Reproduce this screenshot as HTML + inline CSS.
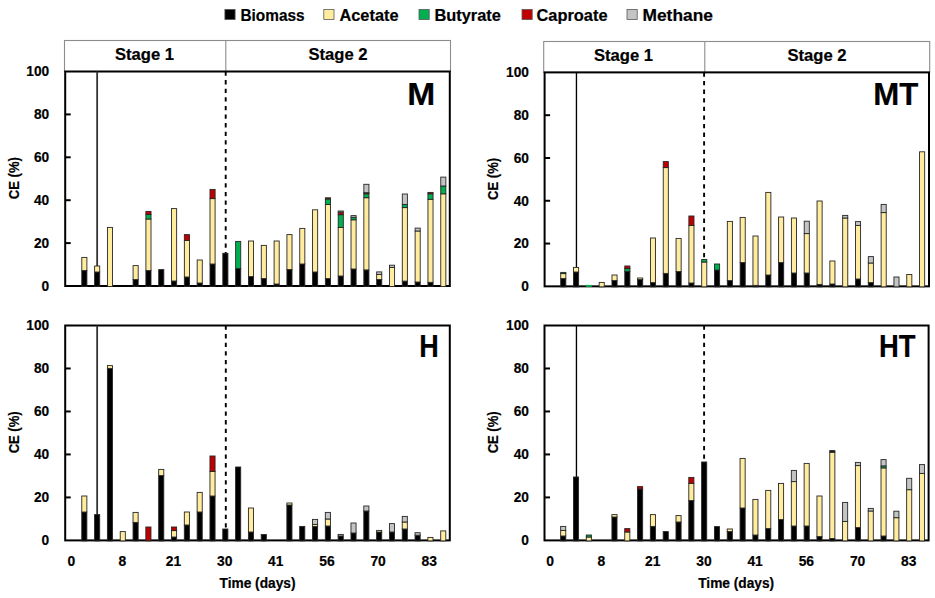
<!DOCTYPE html>
<html><head><meta charset="utf-8"><style>
html,body{margin:0;padding:0;background:#fff;}
body{width:935px;height:598px;overflow:hidden;}
svg{display:block;}
</style></head><body>
<svg width="935" height="598" viewBox="0 0 935 598">
<rect width="935" height="598" fill="#fff"/>
<rect x="64.5" y="40.5" width="386" height="31" fill="#fff" stroke="#8c8c8c" stroke-width="1.1"/>
<line x1="225.8" y1="40.5" x2="225.8" y2="71.5" stroke="#8c8c8c" stroke-width="1.1"/>
<rect x="65.2" y="71.5" width="384.6" height="214.5" fill="none" stroke="#000" stroke-width="2.0"/>
<line x1="97.15" y1="71.5" x2="97.15" y2="286" stroke="#333" stroke-width="1.8"/>
<line x1="225.7" y1="71.5" x2="225.7" y2="286" stroke="#000" stroke-width="1.9" stroke-dasharray="4.3 4.3"/>
<rect x="81.8" y="270.6" width="5.1" height="15.9" fill="#000000" stroke="#262626" stroke-width="0.9"/>
<rect x="81.8" y="257.4" width="5.1" height="13.2" fill="#FFEC9F" stroke="#262626" stroke-width="0.9"/>
<rect x="94.62" y="272" width="5.1" height="14.5" fill="#000000" stroke="#262626" stroke-width="0.9"/>
<rect x="94.62" y="266" width="5.1" height="6" fill="#FFEC9F" stroke="#262626" stroke-width="0.9"/>
<rect x="107.44" y="227.4" width="5.1" height="59.1" fill="#FFEC9F" stroke="#262626" stroke-width="0.9"/>
<rect x="133.08" y="279.6" width="5.1" height="6.9" fill="#000000" stroke="#262626" stroke-width="0.9"/>
<rect x="133.08" y="265.6" width="5.1" height="14" fill="#FFEC9F" stroke="#262626" stroke-width="0.9"/>
<rect x="145.9" y="270.6" width="5.1" height="15.9" fill="#000000" stroke="#262626" stroke-width="0.9"/>
<rect x="145.9" y="219" width="5.1" height="51.6" fill="#FFEC9F" stroke="#262626" stroke-width="0.9"/>
<rect x="145.9" y="214.4" width="5.1" height="4.6" fill="#00B050" stroke="#262626" stroke-width="0.9"/>
<rect x="145.9" y="211.4" width="5.1" height="3" fill="#C00000" stroke="#262626" stroke-width="0.9"/>
<rect x="158.72" y="269.6" width="5.1" height="16.9" fill="#000000" stroke="#262626" stroke-width="0.9"/>
<rect x="171.54" y="281" width="5.1" height="5.5" fill="#000000" stroke="#262626" stroke-width="0.9"/>
<rect x="171.54" y="208.6" width="5.1" height="72.4" fill="#FFEC9F" stroke="#262626" stroke-width="0.9"/>
<rect x="184.36" y="277" width="5.1" height="9.5" fill="#000000" stroke="#262626" stroke-width="0.9"/>
<rect x="184.36" y="240.4" width="5.1" height="36.6" fill="#FFEC9F" stroke="#262626" stroke-width="0.9"/>
<rect x="184.36" y="234.6" width="5.1" height="5.8" fill="#C00000" stroke="#262626" stroke-width="0.9"/>
<rect x="197.18" y="283" width="5.1" height="3.5" fill="#000000" stroke="#262626" stroke-width="0.9"/>
<rect x="197.18" y="260" width="5.1" height="23" fill="#FFEC9F" stroke="#262626" stroke-width="0.9"/>
<rect x="210" y="264" width="5.1" height="22.5" fill="#000000" stroke="#262626" stroke-width="0.9"/>
<rect x="210" y="198.6" width="5.1" height="65.4" fill="#FFEC9F" stroke="#262626" stroke-width="0.9"/>
<rect x="210" y="189.4" width="5.1" height="9.2" fill="#C00000" stroke="#262626" stroke-width="0.9"/>
<rect x="222.82" y="253.3" width="5.1" height="33.2" fill="#000000" stroke="#262626" stroke-width="0.9"/>
<rect x="235.64" y="268.6" width="5.1" height="17.9" fill="#000000" stroke="#262626" stroke-width="0.9"/>
<rect x="235.64" y="241.4" width="5.1" height="27.2" fill="#00B050" stroke="#262626" stroke-width="0.9"/>
<rect x="248.46" y="276.6" width="5.1" height="9.9" fill="#000000" stroke="#262626" stroke-width="0.9"/>
<rect x="248.46" y="241" width="5.1" height="35.6" fill="#FFEC9F" stroke="#262626" stroke-width="0.9"/>
<rect x="261.28" y="278.6" width="5.1" height="7.9" fill="#000000" stroke="#262626" stroke-width="0.9"/>
<rect x="261.28" y="245.4" width="5.1" height="33.2" fill="#FFEC9F" stroke="#262626" stroke-width="0.9"/>
<rect x="274.1" y="284" width="5.1" height="2.5" fill="#000000" stroke="#262626" stroke-width="0.9"/>
<rect x="274.1" y="241" width="5.1" height="43" fill="#FFEC9F" stroke="#262626" stroke-width="0.9"/>
<rect x="286.92" y="269.6" width="5.1" height="16.9" fill="#000000" stroke="#262626" stroke-width="0.9"/>
<rect x="286.92" y="234.6" width="5.1" height="35" fill="#FFEC9F" stroke="#262626" stroke-width="0.9"/>
<rect x="299.74" y="264" width="5.1" height="22.5" fill="#000000" stroke="#262626" stroke-width="0.9"/>
<rect x="299.74" y="228.4" width="5.1" height="35.6" fill="#FFEC9F" stroke="#262626" stroke-width="0.9"/>
<rect x="312.56" y="272" width="5.1" height="14.5" fill="#000000" stroke="#262626" stroke-width="0.9"/>
<rect x="312.56" y="209.8" width="5.1" height="62.2" fill="#FFEC9F" stroke="#262626" stroke-width="0.9"/>
<rect x="325.38" y="278.6" width="5.1" height="7.9" fill="#000000" stroke="#262626" stroke-width="0.9"/>
<rect x="325.38" y="204.4" width="5.1" height="74.2" fill="#FFEC9F" stroke="#262626" stroke-width="0.9"/>
<rect x="325.38" y="199" width="5.1" height="5.4" fill="#00B050" stroke="#262626" stroke-width="0.9"/>
<rect x="325.38" y="197.8" width="5.1" height="1.2" fill="#C00000" stroke="#262626" stroke-width="0.9"/>
<rect x="338.2" y="276" width="5.1" height="10.5" fill="#000000" stroke="#262626" stroke-width="0.9"/>
<rect x="338.2" y="227.5" width="5.1" height="48.5" fill="#FFEC9F" stroke="#262626" stroke-width="0.9"/>
<rect x="338.2" y="214.7" width="5.1" height="12.8" fill="#00B050" stroke="#262626" stroke-width="0.9"/>
<rect x="338.2" y="212.2" width="5.1" height="2.5" fill="#C00000" stroke="#262626" stroke-width="0.9"/>
<rect x="338.2" y="211" width="5.1" height="1.2" fill="#C4C4C4" stroke="#262626" stroke-width="0.9"/>
<rect x="351.02" y="269" width="5.1" height="17.5" fill="#000000" stroke="#262626" stroke-width="0.9"/>
<rect x="351.02" y="219.8" width="5.1" height="49.2" fill="#FFEC9F" stroke="#262626" stroke-width="0.9"/>
<rect x="351.02" y="217.3" width="5.1" height="2.5" fill="#00B050" stroke="#262626" stroke-width="0.9"/>
<rect x="351.02" y="215.6" width="5.1" height="1.7" fill="#C4C4C4" stroke="#262626" stroke-width="0.9"/>
<rect x="363.84" y="269.9" width="5.1" height="16.6" fill="#000000" stroke="#262626" stroke-width="0.9"/>
<rect x="363.84" y="197.7" width="5.1" height="72.2" fill="#FFEC9F" stroke="#262626" stroke-width="0.9"/>
<rect x="363.84" y="193.8" width="5.1" height="3.9" fill="#00B050" stroke="#262626" stroke-width="0.9"/>
<rect x="363.84" y="192.7" width="5.1" height="1.1" fill="#C00000" stroke="#262626" stroke-width="0.9"/>
<rect x="363.84" y="184.3" width="5.1" height="8.4" fill="#C4C4C4" stroke="#262626" stroke-width="0.9"/>
<rect x="376.66" y="279.5" width="5.1" height="7" fill="#000000" stroke="#262626" stroke-width="0.9"/>
<rect x="376.66" y="274.4" width="5.1" height="5.1" fill="#FFEC9F" stroke="#262626" stroke-width="0.9"/>
<rect x="376.66" y="271.9" width="5.1" height="2.5" fill="#C4C4C4" stroke="#262626" stroke-width="0.9"/>
<rect x="389.48" y="267.4" width="5.1" height="19.1" fill="#FFEC9F" stroke="#262626" stroke-width="0.9"/>
<rect x="389.48" y="265.2" width="5.1" height="2.2" fill="#C4C4C4" stroke="#262626" stroke-width="0.9"/>
<rect x="402.3" y="281.1" width="5.1" height="5.4" fill="#000000" stroke="#262626" stroke-width="0.9"/>
<rect x="402.3" y="207.6" width="5.1" height="73.5" fill="#FFEC9F" stroke="#262626" stroke-width="0.9"/>
<rect x="402.3" y="204.4" width="5.1" height="3.2" fill="#00B050" stroke="#262626" stroke-width="0.9"/>
<rect x="402.3" y="194" width="5.1" height="10.4" fill="#C4C4C4" stroke="#262626" stroke-width="0.9"/>
<rect x="415.12" y="282" width="5.1" height="4.5" fill="#000000" stroke="#262626" stroke-width="0.9"/>
<rect x="415.12" y="231" width="5.1" height="51" fill="#FFEC9F" stroke="#262626" stroke-width="0.9"/>
<rect x="415.12" y="228.1" width="5.1" height="2.9" fill="#C4C4C4" stroke="#262626" stroke-width="0.9"/>
<rect x="427.94" y="282.3" width="5.1" height="4.2" fill="#000000" stroke="#262626" stroke-width="0.9"/>
<rect x="427.94" y="199.3" width="5.1" height="83" fill="#FFEC9F" stroke="#262626" stroke-width="0.9"/>
<rect x="427.94" y="193.8" width="5.1" height="5.5" fill="#00B050" stroke="#262626" stroke-width="0.9"/>
<rect x="427.94" y="192.4" width="5.1" height="1.4" fill="#C00000" stroke="#262626" stroke-width="0.9"/>
<rect x="440.76" y="193.8" width="5.1" height="92.7" fill="#FFEC9F" stroke="#262626" stroke-width="0.9"/>
<rect x="440.76" y="186" width="5.1" height="7.8" fill="#00B050" stroke="#262626" stroke-width="0.9"/>
<rect x="440.76" y="177.1" width="5.1" height="8.9" fill="#C4C4C4" stroke="#262626" stroke-width="0.9"/>
<line x1="65.2" y1="243.1" x2="70.7" y2="243.1" stroke="#000" stroke-width="2"/>
<line x1="65.2" y1="200.2" x2="70.7" y2="200.2" stroke="#000" stroke-width="2"/>
<line x1="65.2" y1="157.3" x2="70.7" y2="157.3" stroke="#000" stroke-width="2"/>
<line x1="65.2" y1="114.4" x2="70.7" y2="114.4" stroke="#000" stroke-width="2"/>
<rect x="543.7" y="41.5" width="386" height="30.9" fill="#fff" stroke="#8c8c8c" stroke-width="1.1"/>
<line x1="704.8" y1="41.5" x2="704.8" y2="72.4" stroke="#8c8c8c" stroke-width="1.1"/>
<rect x="544.6" y="72.4" width="384.4" height="213.95" fill="none" stroke="#000" stroke-width="2.0"/>
<line x1="576.45" y1="72.4" x2="576.45" y2="286.35" stroke="#000" stroke-width="1.35"/>
<line x1="704.1" y1="72.4" x2="704.1" y2="286.35" stroke="#000" stroke-width="1.9" stroke-dasharray="4.3 4.3"/>
<rect x="560.72" y="278.6" width="5.1" height="8.25" fill="#000000" stroke="#262626" stroke-width="0.9"/>
<rect x="560.72" y="273.6" width="5.1" height="5" fill="#FFEC9F" stroke="#262626" stroke-width="0.9"/>
<rect x="560.72" y="272.4" width="5.1" height="1.2" fill="#00B050" stroke="#262626" stroke-width="0.9"/>
<rect x="573.53" y="272" width="5.1" height="14.85" fill="#000000" stroke="#262626" stroke-width="0.9"/>
<rect x="573.53" y="267.4" width="5.1" height="4.6" fill="#FFEC9F" stroke="#262626" stroke-width="0.9"/>
<rect x="585.95" y="284.9" width="5.9" height="1.95" fill="#00B050"/>
<rect x="599.16" y="282.4" width="5.1" height="4.45" fill="#FFEC9F" stroke="#262626" stroke-width="0.9"/>
<rect x="611.98" y="280.6" width="5.1" height="6.25" fill="#000000" stroke="#262626" stroke-width="0.9"/>
<rect x="611.98" y="275" width="5.1" height="5.6" fill="#FFEC9F" stroke="#262626" stroke-width="0.9"/>
<rect x="624.8" y="271.4" width="5.1" height="15.45" fill="#000000" stroke="#262626" stroke-width="0.9"/>
<rect x="624.8" y="268.6" width="5.1" height="2.8" fill="#00B050" stroke="#262626" stroke-width="0.9"/>
<rect x="624.8" y="266" width="5.1" height="2.6" fill="#C00000" stroke="#262626" stroke-width="0.9"/>
<rect x="637.61" y="279.6" width="5.1" height="7.25" fill="#000000" stroke="#262626" stroke-width="0.9"/>
<rect x="637.61" y="278" width="5.1" height="1.6" fill="#FFEC9F" stroke="#262626" stroke-width="0.9"/>
<rect x="650.43" y="282.6" width="5.1" height="4.25" fill="#000000" stroke="#262626" stroke-width="0.9"/>
<rect x="650.43" y="238" width="5.1" height="44.6" fill="#FFEC9F" stroke="#262626" stroke-width="0.9"/>
<rect x="663.24" y="273.4" width="5.1" height="13.45" fill="#000000" stroke="#262626" stroke-width="0.9"/>
<rect x="663.24" y="167.6" width="5.1" height="105.8" fill="#FFEC9F" stroke="#262626" stroke-width="0.9"/>
<rect x="663.24" y="161.6" width="5.1" height="6" fill="#C00000" stroke="#262626" stroke-width="0.9"/>
<rect x="676.06" y="271.6" width="5.1" height="15.25" fill="#000000" stroke="#262626" stroke-width="0.9"/>
<rect x="676.06" y="238.4" width="5.1" height="33.2" fill="#FFEC9F" stroke="#262626" stroke-width="0.9"/>
<rect x="688.88" y="283" width="5.1" height="3.85" fill="#000000" stroke="#262626" stroke-width="0.9"/>
<rect x="688.88" y="225.4" width="5.1" height="57.6" fill="#FFEC9F" stroke="#262626" stroke-width="0.9"/>
<rect x="688.88" y="216" width="5.1" height="9.4" fill="#C00000" stroke="#262626" stroke-width="0.9"/>
<rect x="701.69" y="262" width="5.1" height="24.85" fill="#FFEC9F" stroke="#262626" stroke-width="0.9"/>
<rect x="701.69" y="259.4" width="5.1" height="2.6" fill="#00B050" stroke="#262626" stroke-width="0.9"/>
<rect x="714.51" y="270" width="5.1" height="16.85" fill="#000000" stroke="#262626" stroke-width="0.9"/>
<rect x="714.51" y="264" width="5.1" height="6" fill="#00B050" stroke="#262626" stroke-width="0.9"/>
<rect x="727.32" y="280.6" width="5.1" height="6.25" fill="#000000" stroke="#262626" stroke-width="0.9"/>
<rect x="727.32" y="221.4" width="5.1" height="59.2" fill="#FFEC9F" stroke="#262626" stroke-width="0.9"/>
<rect x="740.14" y="262.6" width="5.1" height="24.25" fill="#000000" stroke="#262626" stroke-width="0.9"/>
<rect x="740.14" y="217.4" width="5.1" height="45.2" fill="#FFEC9F" stroke="#262626" stroke-width="0.9"/>
<rect x="752.96" y="285.4" width="5.1" height="1.45" fill="#000000" stroke="#262626" stroke-width="0.9"/>
<rect x="752.96" y="236" width="5.1" height="49.4" fill="#FFEC9F" stroke="#262626" stroke-width="0.9"/>
<rect x="765.77" y="275" width="5.1" height="11.85" fill="#000000" stroke="#262626" stroke-width="0.9"/>
<rect x="765.77" y="192.4" width="5.1" height="82.6" fill="#FFEC9F" stroke="#262626" stroke-width="0.9"/>
<rect x="778.59" y="262.6" width="5.1" height="24.25" fill="#000000" stroke="#262626" stroke-width="0.9"/>
<rect x="778.59" y="217" width="5.1" height="45.6" fill="#FFEC9F" stroke="#262626" stroke-width="0.9"/>
<rect x="791.4" y="273" width="5.1" height="13.85" fill="#000000" stroke="#262626" stroke-width="0.9"/>
<rect x="791.4" y="218" width="5.1" height="55" fill="#FFEC9F" stroke="#262626" stroke-width="0.9"/>
<rect x="804.22" y="273" width="5.1" height="13.85" fill="#000000" stroke="#262626" stroke-width="0.9"/>
<rect x="804.22" y="233.6" width="5.1" height="39.4" fill="#FFEC9F" stroke="#262626" stroke-width="0.9"/>
<rect x="804.22" y="221.2" width="5.1" height="12.4" fill="#C4C4C4" stroke="#262626" stroke-width="0.9"/>
<rect x="817.04" y="284.4" width="5.1" height="2.45" fill="#000000" stroke="#262626" stroke-width="0.9"/>
<rect x="817.04" y="201" width="5.1" height="83.4" fill="#FFEC9F" stroke="#262626" stroke-width="0.9"/>
<rect x="829.85" y="284" width="5.1" height="2.85" fill="#000000" stroke="#262626" stroke-width="0.9"/>
<rect x="829.85" y="261" width="5.1" height="23" fill="#FFEC9F" stroke="#262626" stroke-width="0.9"/>
<rect x="842.67" y="218" width="5.1" height="68.85" fill="#FFEC9F" stroke="#262626" stroke-width="0.9"/>
<rect x="842.67" y="215.4" width="5.1" height="2.6" fill="#C4C4C4" stroke="#262626" stroke-width="0.9"/>
<rect x="855.48" y="279" width="5.1" height="7.85" fill="#000000" stroke="#262626" stroke-width="0.9"/>
<rect x="855.48" y="225.4" width="5.1" height="53.6" fill="#FFEC9F" stroke="#262626" stroke-width="0.9"/>
<rect x="855.48" y="221.6" width="5.1" height="3.8" fill="#C4C4C4" stroke="#262626" stroke-width="0.9"/>
<rect x="868.3" y="282.6" width="5.1" height="4.25" fill="#000000" stroke="#262626" stroke-width="0.9"/>
<rect x="868.3" y="263" width="5.1" height="19.6" fill="#FFEC9F" stroke="#262626" stroke-width="0.9"/>
<rect x="868.3" y="256.6" width="5.1" height="6.4" fill="#C4C4C4" stroke="#262626" stroke-width="0.9"/>
<rect x="881.12" y="212.6" width="5.1" height="74.25" fill="#FFEC9F" stroke="#262626" stroke-width="0.9"/>
<rect x="881.12" y="204.4" width="5.1" height="8.2" fill="#C4C4C4" stroke="#262626" stroke-width="0.9"/>
<rect x="893.93" y="277" width="5.1" height="9.85" fill="#C4C4C4" stroke="#262626" stroke-width="0.9"/>
<rect x="906.75" y="274.5" width="5.1" height="12.35" fill="#FFEC9F" stroke="#262626" stroke-width="0.9"/>
<rect x="919.56" y="151.8" width="5.1" height="135.05" fill="#FFEC9F" stroke="#262626" stroke-width="0.9"/>
<line x1="544.6" y1="243.56" x2="550.1" y2="243.56" stroke="#000" stroke-width="2"/>
<line x1="544.6" y1="200.77" x2="550.1" y2="200.77" stroke="#000" stroke-width="2"/>
<line x1="544.6" y1="157.98" x2="550.1" y2="157.98" stroke="#000" stroke-width="2"/>
<line x1="544.6" y1="115.19" x2="550.1" y2="115.19" stroke="#000" stroke-width="2"/>
<rect x="65.2" y="325.5" width="384.6" height="214.9" fill="none" stroke="#000" stroke-width="2.0"/>
<line x1="97.15" y1="325.5" x2="97.15" y2="540.4" stroke="#333" stroke-width="1.8"/>
<line x1="225.8" y1="325.5" x2="225.8" y2="540.4" stroke="#000" stroke-width="1.9" stroke-dasharray="4.3 4.3"/>
<rect x="81.77" y="512" width="5.1" height="28.9" fill="#000000" stroke="#262626" stroke-width="0.9"/>
<rect x="81.77" y="496" width="5.1" height="16" fill="#FFEC9F" stroke="#262626" stroke-width="0.9"/>
<rect x="94.59" y="514.6" width="5.1" height="26.3" fill="#000000" stroke="#262626" stroke-width="0.9"/>
<rect x="107.41" y="368.4" width="5.1" height="172.5" fill="#000000" stroke="#262626" stroke-width="0.9"/>
<rect x="107.41" y="365.6" width="5.1" height="2.8" fill="#FFEC9F" stroke="#262626" stroke-width="0.9"/>
<rect x="120.23" y="531.6" width="5.1" height="9.3" fill="#FFEC9F" stroke="#262626" stroke-width="0.9"/>
<rect x="133.04" y="522.4" width="5.1" height="18.5" fill="#000000" stroke="#262626" stroke-width="0.9"/>
<rect x="133.04" y="512.4" width="5.1" height="10" fill="#FFEC9F" stroke="#262626" stroke-width="0.9"/>
<rect x="145.86" y="527" width="5.1" height="13.9" fill="#C00000" stroke="#262626" stroke-width="0.9"/>
<rect x="158.68" y="475.6" width="5.1" height="65.3" fill="#000000" stroke="#262626" stroke-width="0.9"/>
<rect x="158.68" y="469.4" width="5.1" height="6.2" fill="#FFEC9F" stroke="#262626" stroke-width="0.9"/>
<rect x="171.5" y="537" width="5.1" height="3.9" fill="#000000" stroke="#262626" stroke-width="0.9"/>
<rect x="171.5" y="530.6" width="5.1" height="6.4" fill="#FFEC9F" stroke="#262626" stroke-width="0.9"/>
<rect x="171.5" y="527" width="5.1" height="3.6" fill="#C00000" stroke="#262626" stroke-width="0.9"/>
<rect x="184.32" y="525" width="5.1" height="15.9" fill="#000000" stroke="#262626" stroke-width="0.9"/>
<rect x="184.32" y="512" width="5.1" height="13" fill="#FFEC9F" stroke="#262626" stroke-width="0.9"/>
<rect x="197.14" y="512" width="5.1" height="28.9" fill="#000000" stroke="#262626" stroke-width="0.9"/>
<rect x="197.14" y="492.4" width="5.1" height="19.6" fill="#FFEC9F" stroke="#262626" stroke-width="0.9"/>
<rect x="209.96" y="496" width="5.1" height="44.9" fill="#000000" stroke="#262626" stroke-width="0.9"/>
<rect x="209.96" y="471.4" width="5.1" height="24.6" fill="#FFEC9F" stroke="#262626" stroke-width="0.9"/>
<rect x="209.96" y="456" width="5.1" height="15.4" fill="#C00000" stroke="#262626" stroke-width="0.9"/>
<rect x="222.78" y="529" width="5.1" height="11.9" fill="#000000" stroke="#262626" stroke-width="0.9"/>
<rect x="235.6" y="467" width="5.1" height="73.9" fill="#000000" stroke="#262626" stroke-width="0.9"/>
<rect x="248.42" y="532" width="5.1" height="8.9" fill="#000000" stroke="#262626" stroke-width="0.9"/>
<rect x="248.42" y="508" width="5.1" height="24" fill="#FFEC9F" stroke="#262626" stroke-width="0.9"/>
<rect x="261.24" y="534.5" width="5.1" height="6.4" fill="#000000" stroke="#262626" stroke-width="0.9"/>
<rect x="286.87" y="505" width="5.1" height="35.9" fill="#000000" stroke="#262626" stroke-width="0.9"/>
<rect x="286.87" y="503" width="5.1" height="2" fill="#FFEC9F" stroke="#262626" stroke-width="0.9"/>
<rect x="299.69" y="526.4" width="5.1" height="14.5" fill="#000000" stroke="#262626" stroke-width="0.9"/>
<rect x="312.51" y="526.4" width="5.1" height="14.5" fill="#000000" stroke="#262626" stroke-width="0.9"/>
<rect x="312.51" y="524.4" width="5.1" height="2" fill="#FFEC9F" stroke="#262626" stroke-width="0.9"/>
<rect x="312.51" y="519.4" width="5.1" height="5" fill="#C4C4C4" stroke="#262626" stroke-width="0.9"/>
<rect x="325.33" y="526" width="5.1" height="14.9" fill="#000000" stroke="#262626" stroke-width="0.9"/>
<rect x="325.33" y="519" width="5.1" height="7" fill="#FFEC9F" stroke="#262626" stroke-width="0.9"/>
<rect x="325.33" y="512.4" width="5.1" height="6.6" fill="#C4C4C4" stroke="#262626" stroke-width="0.9"/>
<rect x="338.15" y="536" width="5.1" height="4.9" fill="#000000" stroke="#262626" stroke-width="0.9"/>
<rect x="338.15" y="534.4" width="5.1" height="1.6" fill="#C4C4C4" stroke="#262626" stroke-width="0.9"/>
<rect x="350.97" y="533" width="5.1" height="7.9" fill="#000000" stroke="#262626" stroke-width="0.9"/>
<rect x="350.97" y="523" width="5.1" height="10" fill="#C4C4C4" stroke="#262626" stroke-width="0.9"/>
<rect x="363.79" y="511" width="5.1" height="29.9" fill="#000000" stroke="#262626" stroke-width="0.9"/>
<rect x="363.79" y="506" width="5.1" height="5" fill="#C4C4C4" stroke="#262626" stroke-width="0.9"/>
<rect x="376.61" y="532" width="5.1" height="8.9" fill="#000000" stroke="#262626" stroke-width="0.9"/>
<rect x="376.61" y="530.4" width="5.1" height="1.6" fill="#FFEC9F" stroke="#262626" stroke-width="0.9"/>
<rect x="389.43" y="532" width="5.1" height="8.9" fill="#000000" stroke="#262626" stroke-width="0.9"/>
<rect x="389.43" y="523.6" width="5.1" height="8.4" fill="#C4C4C4" stroke="#262626" stroke-width="0.9"/>
<rect x="402.24" y="529" width="5.1" height="11.9" fill="#000000" stroke="#262626" stroke-width="0.9"/>
<rect x="402.24" y="522" width="5.1" height="7" fill="#FFEC9F" stroke="#262626" stroke-width="0.9"/>
<rect x="402.24" y="516.4" width="5.1" height="5.6" fill="#C4C4C4" stroke="#262626" stroke-width="0.9"/>
<rect x="415.06" y="535.2" width="5.1" height="5.7" fill="#000000" stroke="#262626" stroke-width="0.9"/>
<rect x="415.06" y="532.7" width="5.1" height="2.5" fill="#C4C4C4" stroke="#262626" stroke-width="0.9"/>
<rect x="427.88" y="537.4" width="5.1" height="3.5" fill="#FFEC9F" stroke="#262626" stroke-width="0.9"/>
<rect x="440.7" y="530.9" width="5.1" height="10" fill="#FFEC9F" stroke="#262626" stroke-width="0.9"/>
<line x1="65.2" y1="497.42" x2="70.7" y2="497.42" stroke="#000" stroke-width="2"/>
<line x1="65.2" y1="454.44" x2="70.7" y2="454.44" stroke="#000" stroke-width="2"/>
<line x1="65.2" y1="411.46" x2="70.7" y2="411.46" stroke="#000" stroke-width="2"/>
<line x1="65.2" y1="368.48" x2="70.7" y2="368.48" stroke="#000" stroke-width="2"/>
<rect x="544.5" y="325.5" width="384.1" height="214.9" fill="none" stroke="#000" stroke-width="2.0"/>
<line x1="576.45" y1="325.5" x2="576.45" y2="540.4" stroke="#000" stroke-width="1.35"/>
<line x1="704.1" y1="325.5" x2="704.1" y2="540.4" stroke="#000" stroke-width="1.9" stroke-dasharray="4.3 4.3"/>
<rect x="560.66" y="536" width="5.1" height="4.9" fill="#000000" stroke="#262626" stroke-width="0.9"/>
<rect x="560.66" y="530.4" width="5.1" height="5.6" fill="#FFEC9F" stroke="#262626" stroke-width="0.9"/>
<rect x="560.66" y="526.4" width="5.1" height="4" fill="#C4C4C4" stroke="#262626" stroke-width="0.9"/>
<rect x="573.48" y="477" width="5.1" height="63.9" fill="#000000" stroke="#262626" stroke-width="0.9"/>
<rect x="586.29" y="537" width="5.1" height="3.9" fill="#FFEC9F" stroke="#262626" stroke-width="0.9"/>
<rect x="586.29" y="535" width="5.1" height="2" fill="#00B050" stroke="#262626" stroke-width="0.9"/>
<rect x="611.92" y="517" width="5.1" height="23.9" fill="#000000" stroke="#262626" stroke-width="0.9"/>
<rect x="611.92" y="514.6" width="5.1" height="2.4" fill="#FFEC9F" stroke="#262626" stroke-width="0.9"/>
<rect x="624.73" y="532" width="5.1" height="8.9" fill="#FFEC9F" stroke="#262626" stroke-width="0.9"/>
<rect x="624.73" y="528.6" width="5.1" height="3.4" fill="#C00000" stroke="#262626" stroke-width="0.9"/>
<rect x="637.55" y="489" width="5.1" height="51.9" fill="#000000" stroke="#262626" stroke-width="0.9"/>
<rect x="637.55" y="486.6" width="5.1" height="2.4" fill="#C00000" stroke="#262626" stroke-width="0.9"/>
<rect x="650.36" y="526.4" width="5.1" height="14.5" fill="#000000" stroke="#262626" stroke-width="0.9"/>
<rect x="650.36" y="514.6" width="5.1" height="11.8" fill="#FFEC9F" stroke="#262626" stroke-width="0.9"/>
<rect x="663.18" y="531.6" width="5.1" height="9.3" fill="#000000" stroke="#262626" stroke-width="0.9"/>
<rect x="675.99" y="522" width="5.1" height="18.9" fill="#000000" stroke="#262626" stroke-width="0.9"/>
<rect x="675.99" y="515.6" width="5.1" height="6.4" fill="#FFEC9F" stroke="#262626" stroke-width="0.9"/>
<rect x="688.8" y="500.6" width="5.1" height="40.3" fill="#000000" stroke="#262626" stroke-width="0.9"/>
<rect x="688.8" y="483.4" width="5.1" height="17.2" fill="#FFEC9F" stroke="#262626" stroke-width="0.9"/>
<rect x="688.8" y="477.4" width="5.1" height="6" fill="#C00000" stroke="#262626" stroke-width="0.9"/>
<rect x="701.62" y="462" width="5.1" height="78.9" fill="#000000" stroke="#262626" stroke-width="0.9"/>
<rect x="714.43" y="526.6" width="5.1" height="14.3" fill="#000000" stroke="#262626" stroke-width="0.9"/>
<rect x="727.25" y="531.6" width="5.1" height="9.3" fill="#000000" stroke="#262626" stroke-width="0.9"/>
<rect x="727.25" y="529" width="5.1" height="2.6" fill="#FFEC9F" stroke="#262626" stroke-width="0.9"/>
<rect x="740.06" y="508" width="5.1" height="32.9" fill="#000000" stroke="#262626" stroke-width="0.9"/>
<rect x="740.06" y="458.4" width="5.1" height="49.6" fill="#FFEC9F" stroke="#262626" stroke-width="0.9"/>
<rect x="752.87" y="535" width="5.1" height="5.9" fill="#000000" stroke="#262626" stroke-width="0.9"/>
<rect x="752.87" y="499.4" width="5.1" height="35.6" fill="#FFEC9F" stroke="#262626" stroke-width="0.9"/>
<rect x="765.69" y="528.6" width="5.1" height="12.3" fill="#000000" stroke="#262626" stroke-width="0.9"/>
<rect x="765.69" y="490.4" width="5.1" height="38.2" fill="#FFEC9F" stroke="#262626" stroke-width="0.9"/>
<rect x="778.5" y="519.6" width="5.1" height="21.3" fill="#000000" stroke="#262626" stroke-width="0.9"/>
<rect x="778.5" y="483.4" width="5.1" height="36.2" fill="#FFEC9F" stroke="#262626" stroke-width="0.9"/>
<rect x="791.32" y="526" width="5.1" height="14.9" fill="#000000" stroke="#262626" stroke-width="0.9"/>
<rect x="791.32" y="481.6" width="5.1" height="44.4" fill="#FFEC9F" stroke="#262626" stroke-width="0.9"/>
<rect x="791.32" y="470.4" width="5.1" height="11.2" fill="#C4C4C4" stroke="#262626" stroke-width="0.9"/>
<rect x="804.13" y="526" width="5.1" height="14.9" fill="#000000" stroke="#262626" stroke-width="0.9"/>
<rect x="804.13" y="463.4" width="5.1" height="62.6" fill="#FFEC9F" stroke="#262626" stroke-width="0.9"/>
<rect x="816.94" y="536.6" width="5.1" height="4.3" fill="#000000" stroke="#262626" stroke-width="0.9"/>
<rect x="816.94" y="496" width="5.1" height="40.6" fill="#FFEC9F" stroke="#262626" stroke-width="0.9"/>
<rect x="829.76" y="538.5" width="5.1" height="2.4" fill="#000000" stroke="#262626" stroke-width="0.9"/>
<rect x="829.76" y="452.2" width="5.1" height="86.3" fill="#FFEC9F" stroke="#262626" stroke-width="0.9"/>
<rect x="829.76" y="450.6" width="5.1" height="1.6" fill="#1a1a1a" stroke="#262626" stroke-width="0.9"/>
<rect x="842.57" y="521.4" width="5.1" height="19.5" fill="#FFEC9F" stroke="#262626" stroke-width="0.9"/>
<rect x="842.57" y="502.4" width="5.1" height="19" fill="#C4C4C4" stroke="#262626" stroke-width="0.9"/>
<rect x="855.39" y="527.6" width="5.1" height="13.3" fill="#000000" stroke="#262626" stroke-width="0.9"/>
<rect x="855.39" y="465.6" width="5.1" height="62" fill="#FFEC9F" stroke="#262626" stroke-width="0.9"/>
<rect x="855.39" y="462.4" width="5.1" height="3.2" fill="#C4C4C4" stroke="#262626" stroke-width="0.9"/>
<rect x="868.2" y="511" width="5.1" height="29.9" fill="#FFEC9F" stroke="#262626" stroke-width="0.9"/>
<rect x="868.2" y="508.4" width="5.1" height="2.6" fill="#C4C4C4" stroke="#262626" stroke-width="0.9"/>
<rect x="881.01" y="536" width="5.1" height="4.9" fill="#000000" stroke="#262626" stroke-width="0.9"/>
<rect x="881.01" y="467.9" width="5.1" height="68.1" fill="#FFEC9F" stroke="#262626" stroke-width="0.9"/>
<rect x="881.01" y="465.9" width="5.1" height="2" fill="#00B050" stroke="#262626" stroke-width="0.9"/>
<rect x="881.01" y="459.6" width="5.1" height="6.3" fill="#C4C4C4" stroke="#262626" stroke-width="0.9"/>
<rect x="893.83" y="517.7" width="5.1" height="23.2" fill="#FFEC9F" stroke="#262626" stroke-width="0.9"/>
<rect x="893.83" y="511.2" width="5.1" height="6.5" fill="#C4C4C4" stroke="#262626" stroke-width="0.9"/>
<rect x="906.64" y="489.7" width="5.1" height="51.2" fill="#FFEC9F" stroke="#262626" stroke-width="0.9"/>
<rect x="906.64" y="478.3" width="5.1" height="11.4" fill="#C4C4C4" stroke="#262626" stroke-width="0.9"/>
<rect x="919.46" y="473.4" width="5.1" height="67.5" fill="#FFEC9F" stroke="#262626" stroke-width="0.9"/>
<rect x="919.46" y="464.6" width="5.1" height="8.8" fill="#C4C4C4" stroke="#262626" stroke-width="0.9"/>
<line x1="544.5" y1="497.42" x2="550" y2="497.42" stroke="#000" stroke-width="2"/>
<line x1="544.5" y1="454.44" x2="550" y2="454.44" stroke="#000" stroke-width="2"/>
<line x1="544.5" y1="411.46" x2="550" y2="411.46" stroke="#000" stroke-width="2"/>
<line x1="544.5" y1="368.48" x2="550" y2="368.48" stroke="#000" stroke-width="2"/>
<text transform="translate(49.2,290.6) scale(0.94,1)" text-anchor="end" font-size="14.6" font-family="Liberation Sans, sans-serif" font-weight="bold" stroke="#000" stroke-width="0.2">0</text>
<text transform="translate(49.2,247.7) scale(0.94,1)" text-anchor="end" font-size="14.6" font-family="Liberation Sans, sans-serif" font-weight="bold" stroke="#000" stroke-width="0.2">20</text>
<text transform="translate(49.2,204.8) scale(0.94,1)" text-anchor="end" font-size="14.6" font-family="Liberation Sans, sans-serif" font-weight="bold" stroke="#000" stroke-width="0.2">40</text>
<text transform="translate(49.2,161.9) scale(0.94,1)" text-anchor="end" font-size="14.6" font-family="Liberation Sans, sans-serif" font-weight="bold" stroke="#000" stroke-width="0.2">60</text>
<text transform="translate(49.2,119) scale(0.94,1)" text-anchor="end" font-size="14.6" font-family="Liberation Sans, sans-serif" font-weight="bold" stroke="#000" stroke-width="0.2">80</text>
<text transform="translate(49.2,76.1) scale(0.94,1)" text-anchor="end" font-size="14.6" font-family="Liberation Sans, sans-serif" font-weight="bold" stroke="#000" stroke-width="0.2">100</text>
<text transform="translate(19.3,178.15) rotate(-90)" x="0" y="0" text-anchor="middle" font-size="15" font-family="Liberation Sans, sans-serif" font-weight="bold" stroke="#000" stroke-width="0.2" textLength="42" lengthAdjust="spacingAndGlyphs">CE (%)</text>
<text transform="translate(528.9,291.2) scale(0.94,1)" text-anchor="end" font-size="14.6" font-family="Liberation Sans, sans-serif" font-weight="bold" stroke="#000" stroke-width="0.2">0</text>
<text transform="translate(528.9,248.36) scale(0.94,1)" text-anchor="end" font-size="14.6" font-family="Liberation Sans, sans-serif" font-weight="bold" stroke="#000" stroke-width="0.2">20</text>
<text transform="translate(528.9,205.52) scale(0.94,1)" text-anchor="end" font-size="14.6" font-family="Liberation Sans, sans-serif" font-weight="bold" stroke="#000" stroke-width="0.2">40</text>
<text transform="translate(528.9,162.68) scale(0.94,1)" text-anchor="end" font-size="14.6" font-family="Liberation Sans, sans-serif" font-weight="bold" stroke="#000" stroke-width="0.2">60</text>
<text transform="translate(528.9,119.84) scale(0.94,1)" text-anchor="end" font-size="14.6" font-family="Liberation Sans, sans-serif" font-weight="bold" stroke="#000" stroke-width="0.2">80</text>
<text transform="translate(528.9,77) scale(0.94,1)" text-anchor="end" font-size="14.6" font-family="Liberation Sans, sans-serif" font-weight="bold" stroke="#000" stroke-width="0.2">100</text>
<text transform="translate(498.4,178.9) rotate(-90)" x="0" y="0" text-anchor="middle" font-size="15" font-family="Liberation Sans, sans-serif" font-weight="bold" stroke="#000" stroke-width="0.2" textLength="42" lengthAdjust="spacingAndGlyphs">CE (%)</text>
<text transform="translate(49.2,545) scale(0.94,1)" text-anchor="end" font-size="14.6" font-family="Liberation Sans, sans-serif" font-weight="bold" stroke="#000" stroke-width="0.2">0</text>
<text transform="translate(49.2,502.02) scale(0.94,1)" text-anchor="end" font-size="14.6" font-family="Liberation Sans, sans-serif" font-weight="bold" stroke="#000" stroke-width="0.2">20</text>
<text transform="translate(49.2,459.04) scale(0.94,1)" text-anchor="end" font-size="14.6" font-family="Liberation Sans, sans-serif" font-weight="bold" stroke="#000" stroke-width="0.2">40</text>
<text transform="translate(49.2,416.06) scale(0.94,1)" text-anchor="end" font-size="14.6" font-family="Liberation Sans, sans-serif" font-weight="bold" stroke="#000" stroke-width="0.2">60</text>
<text transform="translate(49.2,373.08) scale(0.94,1)" text-anchor="end" font-size="14.6" font-family="Liberation Sans, sans-serif" font-weight="bold" stroke="#000" stroke-width="0.2">80</text>
<text transform="translate(49.2,330.1) scale(0.94,1)" text-anchor="end" font-size="14.6" font-family="Liberation Sans, sans-serif" font-weight="bold" stroke="#000" stroke-width="0.2">100</text>
<text transform="translate(19.3,432.35) rotate(-90)" x="0" y="0" text-anchor="middle" font-size="15" font-family="Liberation Sans, sans-serif" font-weight="bold" stroke="#000" stroke-width="0.2" textLength="42" lengthAdjust="spacingAndGlyphs">CE (%)</text>
<text transform="translate(528.9,545) scale(0.94,1)" text-anchor="end" font-size="14.6" font-family="Liberation Sans, sans-serif" font-weight="bold" stroke="#000" stroke-width="0.2">0</text>
<text transform="translate(528.9,502.02) scale(0.94,1)" text-anchor="end" font-size="14.6" font-family="Liberation Sans, sans-serif" font-weight="bold" stroke="#000" stroke-width="0.2">20</text>
<text transform="translate(528.9,459.04) scale(0.94,1)" text-anchor="end" font-size="14.6" font-family="Liberation Sans, sans-serif" font-weight="bold" stroke="#000" stroke-width="0.2">40</text>
<text transform="translate(528.9,416.06) scale(0.94,1)" text-anchor="end" font-size="14.6" font-family="Liberation Sans, sans-serif" font-weight="bold" stroke="#000" stroke-width="0.2">60</text>
<text transform="translate(528.9,373.08) scale(0.94,1)" text-anchor="end" font-size="14.6" font-family="Liberation Sans, sans-serif" font-weight="bold" stroke="#000" stroke-width="0.2">80</text>
<text transform="translate(528.9,330.1) scale(0.94,1)" text-anchor="end" font-size="14.6" font-family="Liberation Sans, sans-serif" font-weight="bold" stroke="#000" stroke-width="0.2">100</text>
<text transform="translate(498.4,432.35) rotate(-90)" x="0" y="0" text-anchor="middle" font-size="15" font-family="Liberation Sans, sans-serif" font-weight="bold" stroke="#000" stroke-width="0.2" textLength="42" lengthAdjust="spacingAndGlyphs">CE (%)</text>
<text transform="translate(71.3,566.2) scale(0.95,1)" text-anchor="middle" font-size="14.6" font-family="Liberation Sans, sans-serif" font-weight="bold" stroke="#000" stroke-width="0.2">0</text>
<text transform="translate(550.2,566.2) scale(0.95,1)" text-anchor="middle" font-size="14.6" font-family="Liberation Sans, sans-serif" font-weight="bold" stroke="#000" stroke-width="0.2">0</text>
<text transform="translate(122.43,566.2) scale(0.95,1)" text-anchor="middle" font-size="14.6" font-family="Liberation Sans, sans-serif" font-weight="bold" stroke="#000" stroke-width="0.2">8</text>
<text transform="translate(601.43,566.2) scale(0.95,1)" text-anchor="middle" font-size="14.6" font-family="Liberation Sans, sans-serif" font-weight="bold" stroke="#000" stroke-width="0.2">8</text>
<text transform="translate(173.56,566.2) scale(0.95,1)" text-anchor="middle" font-size="14.6" font-family="Liberation Sans, sans-serif" font-weight="bold" stroke="#000" stroke-width="0.2">21</text>
<text transform="translate(652.66,566.2) scale(0.95,1)" text-anchor="middle" font-size="14.6" font-family="Liberation Sans, sans-serif" font-weight="bold" stroke="#000" stroke-width="0.2">21</text>
<text transform="translate(224.69,566.2) scale(0.95,1)" text-anchor="middle" font-size="14.6" font-family="Liberation Sans, sans-serif" font-weight="bold" stroke="#000" stroke-width="0.2">30</text>
<text transform="translate(703.89,566.2) scale(0.95,1)" text-anchor="middle" font-size="14.6" font-family="Liberation Sans, sans-serif" font-weight="bold" stroke="#000" stroke-width="0.2">30</text>
<text transform="translate(275.82,566.2) scale(0.95,1)" text-anchor="middle" font-size="14.6" font-family="Liberation Sans, sans-serif" font-weight="bold" stroke="#000" stroke-width="0.2">41</text>
<text transform="translate(755.12,566.2) scale(0.95,1)" text-anchor="middle" font-size="14.6" font-family="Liberation Sans, sans-serif" font-weight="bold" stroke="#000" stroke-width="0.2">41</text>
<text transform="translate(326.95,566.2) scale(0.95,1)" text-anchor="middle" font-size="14.6" font-family="Liberation Sans, sans-serif" font-weight="bold" stroke="#000" stroke-width="0.2">56</text>
<text transform="translate(806.35,566.2) scale(0.95,1)" text-anchor="middle" font-size="14.6" font-family="Liberation Sans, sans-serif" font-weight="bold" stroke="#000" stroke-width="0.2">56</text>
<text transform="translate(378.08,566.2) scale(0.95,1)" text-anchor="middle" font-size="14.6" font-family="Liberation Sans, sans-serif" font-weight="bold" stroke="#000" stroke-width="0.2">70</text>
<text transform="translate(857.58,566.2) scale(0.95,1)" text-anchor="middle" font-size="14.6" font-family="Liberation Sans, sans-serif" font-weight="bold" stroke="#000" stroke-width="0.2">70</text>
<text transform="translate(429.21,566.2) scale(0.95,1)" text-anchor="middle" font-size="14.6" font-family="Liberation Sans, sans-serif" font-weight="bold" stroke="#000" stroke-width="0.2">83</text>
<text transform="translate(908.81,566.2) scale(0.95,1)" text-anchor="middle" font-size="14.6" font-family="Liberation Sans, sans-serif" font-weight="bold" stroke="#000" stroke-width="0.2">83</text>
<text x="257.5" y="588" text-anchor="middle" font-size="13.8" font-family="Liberation Sans, sans-serif" font-weight="bold" stroke="#000" stroke-width="0.2" textLength="76" lengthAdjust="spacingAndGlyphs">Time (days)</text>
<text x="736.2" y="588" text-anchor="middle" font-size="13.8" font-family="Liberation Sans, sans-serif" font-weight="bold" stroke="#000" stroke-width="0.2" textLength="76" lengthAdjust="spacingAndGlyphs">Time (days)</text>
<text x="115" y="59.6" font-size="16" font-family="Liberation Sans, sans-serif" font-weight="bold" stroke="#000" stroke-width="0.2" textLength="59" lengthAdjust="spacingAndGlyphs">Stage 1</text>
<text x="308.4" y="59.6" font-size="16" font-family="Liberation Sans, sans-serif" font-weight="bold" stroke="#000" stroke-width="0.2" textLength="59.1" lengthAdjust="spacingAndGlyphs">Stage 2</text>
<text x="594" y="60.6" font-size="16" font-family="Liberation Sans, sans-serif" font-weight="bold" stroke="#000" stroke-width="0.2" textLength="59" lengthAdjust="spacingAndGlyphs">Stage 1</text>
<text x="787.4" y="60.6" font-size="16" font-family="Liberation Sans, sans-serif" font-weight="bold" stroke="#000" stroke-width="0.2" textLength="59.1" lengthAdjust="spacingAndGlyphs">Stage 2</text>
<text x="407.2" y="104.8" font-size="30.5" font-family="Liberation Sans, sans-serif" font-weight="bold" stroke="#000" stroke-width="0.2" textLength="28" lengthAdjust="spacingAndGlyphs">M</text>
<text x="873.3" y="104.8" font-size="30.5" font-family="Liberation Sans, sans-serif" font-weight="bold" stroke="#000" stroke-width="0.2" textLength="45.1" lengthAdjust="spacingAndGlyphs">MT</text>
<text x="419.3" y="356.6" font-size="30.5" font-family="Liberation Sans, sans-serif" font-weight="bold" stroke="#000" stroke-width="0.2" textLength="19.5" lengthAdjust="spacingAndGlyphs">H</text>
<text x="879" y="356.6" font-size="30.5" font-family="Liberation Sans, sans-serif" font-weight="bold" stroke="#000" stroke-width="0.2" textLength="36.6" lengthAdjust="spacingAndGlyphs">HT</text>
<rect x="224.9" y="9.4" width="10.2" height="10.2" fill="#000000" stroke="#595959" stroke-width="0.8"/>
<text x="240.5" y="20.5" font-size="16.3" font-family="Liberation Sans, sans-serif" font-weight="bold" stroke="#000" stroke-width="0.2" textLength="64" lengthAdjust="spacingAndGlyphs">Biomass</text>
<rect x="323.8" y="9.4" width="10.2" height="10.2" fill="#FFEC9F" stroke="#595959" stroke-width="0.8"/>
<text x="339.5" y="20.5" font-size="16.3" font-family="Liberation Sans, sans-serif" font-weight="bold" stroke="#000" stroke-width="0.2" textLength="59" lengthAdjust="spacingAndGlyphs">Acetate</text>
<rect x="419" y="9.4" width="10.2" height="10.2" fill="#00B050" stroke="#595959" stroke-width="0.8"/>
<text x="434.5" y="20.5" font-size="16.3" font-family="Liberation Sans, sans-serif" font-weight="bold" stroke="#000" stroke-width="0.2" textLength="66.4" lengthAdjust="spacingAndGlyphs">Butyrate</text>
<rect x="522" y="9.4" width="10.2" height="10.2" fill="#C00000" stroke="#595959" stroke-width="0.8"/>
<text x="536.5" y="20.5" font-size="16.3" font-family="Liberation Sans, sans-serif" font-weight="bold" stroke="#000" stroke-width="0.2" textLength="71" lengthAdjust="spacingAndGlyphs">Caproate</text>
<rect x="627" y="9.4" width="10.2" height="10.2" fill="#C4C4C4" stroke="#595959" stroke-width="0.8"/>
<text x="642.5" y="20.5" font-size="16.3" font-family="Liberation Sans, sans-serif" font-weight="bold" stroke="#000" stroke-width="0.2" textLength="70.4" lengthAdjust="spacingAndGlyphs">Methane</text>
</svg>
</body></html>
